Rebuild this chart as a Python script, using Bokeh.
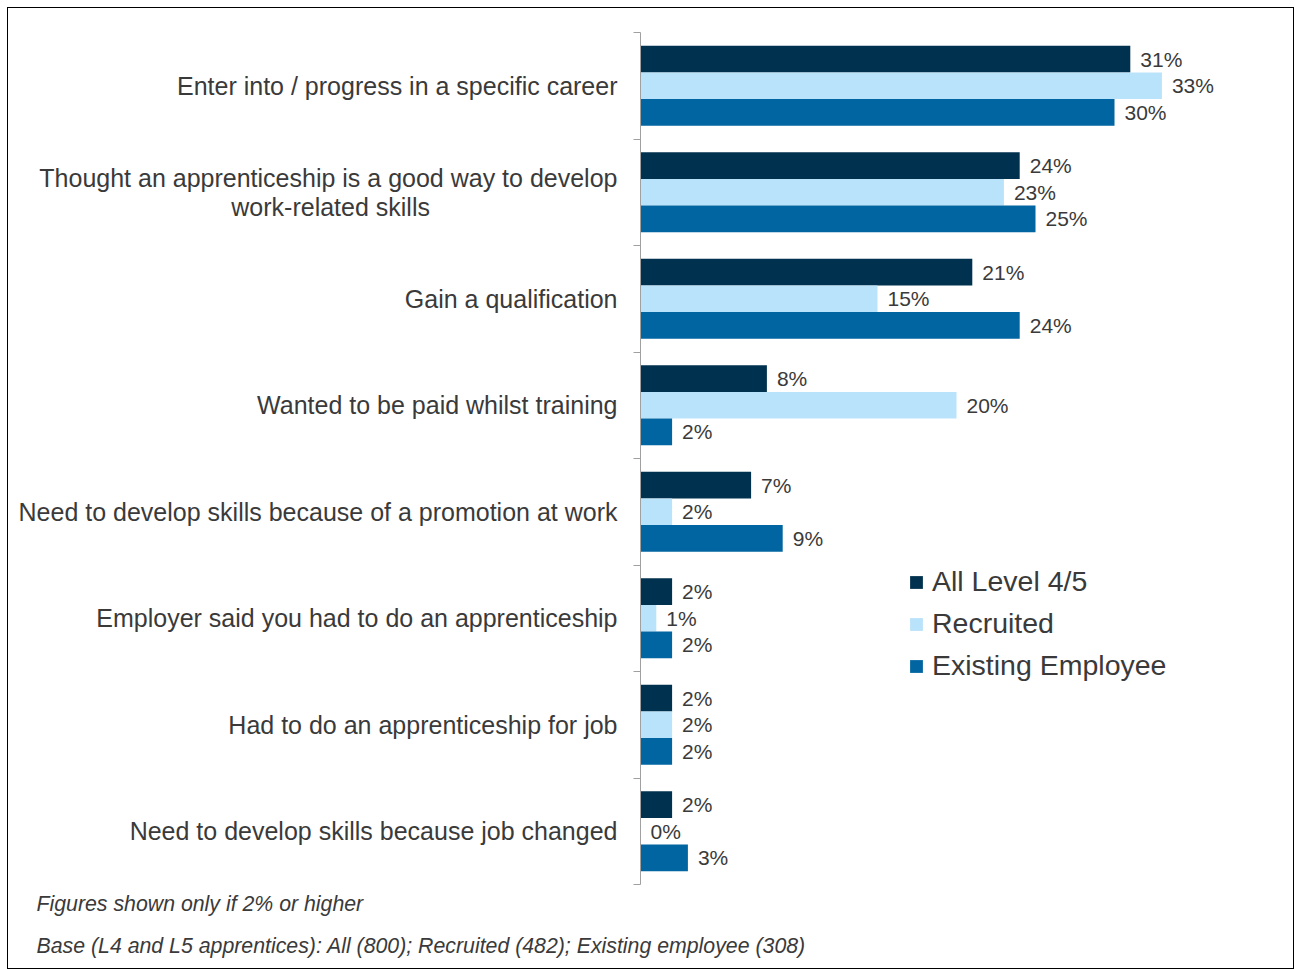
from bokeh.plotting import figure
from bokeh.models import Range1d, FixedTicker, ColumnDataSource, Legend, LegendItem, Title
from bokeh.embed import file_html
from bokeh.resources import INLINE
from bokeh.core.properties import value

NB = "\u00a0"
categories = [
    "Enter into / progress in a specific career",
    "Thought an apprenticeship is a good way to develop\nwork-related skills" + NB * 27,
    "Gain a qualification",
    "Wanted to be paid whilst training",
    "Need to develop skills because of a promotion at work",
    "Employer said you had to do an apprenticeship",
    "Had to do an apprenticeship for job",
    "Need to develop skills because job changed",
]
all_level = [31, 24, 21, 8, 7, 2, 2, 2]
recruited = [33, 23, 15, 20, 2, 1, 2, 0]
existing = [30, 25, 24, 2, 9, 2, 2, 3]
series_names = ["All Level 4/5", "Recruited", "Existing Employee"]
series_values = [all_level, recruited, existing]
colors = ["#00324F", "#B9E3FA", "#0065A0"]
footnotes = [
    "Figures shown only if 2% or higher",
    "Base (L4 and L5 apprentices): All (800); Recruited (482); Existing employee (308)",
]

FONT = "Liberation Sans"
TEXT_COLOR = "#3a3a3a"

W, H = 1285, 960
p = figure(width=W, height=H, output_backend="svg", toolbar_location=None,
           x_range=Range1d(0, 40), y_range=Range1d(len(categories), 0),
           min_border_left=632, min_border_right=21, min_border_top=24, min_border_bottom=83)
p.margin = (8, 0, 0, 8)
p.styles = {"outline": "1px solid #000"}
p.outline_line_color = None
p.xgrid.visible = False
p.ygrid.visible = False
p.xaxis.visible = False

n = len(categories)
bar_h = 0.25
renderers = []
for k, (name, vals, col) in enumerate(zip(series_names, series_values, colors)):
    ys = [i + 0.25 + bar_h * k for i in range(n)]
    src = ColumnDataSource(dict(y=ys, right=vals, lab=[f"{v}%" for v in vals]))
    r = p.hbar(y="y", left=0, right="right", height=bar_h, source=src,
               fill_color=col, line_color=None)
    renderers.append((name, r))
    p.text(x="right", y="y", text="lab", source=src, x_offset=10,
           text_align="left", text_baseline="middle",
           text_font=value(FONT), text_font_size="21px", text_color=TEXT_COLOR)

ax = p.yaxis[0]
ax.ticker = FixedTicker(ticks=[i + 0.5 for i in range(n)], minor_ticks=list(range(n + 1)))
ax.major_label_overrides = {i + 0.5: c for i, c in enumerate(categories)}
ax.major_tick_out = 0
ax.major_tick_in = 0
ax.minor_tick_out = 7
ax.minor_tick_in = 0
ax.minor_tick_line_color = "#a0a0a0"
ax.axis_line_color = "#a0a0a0"
ax.major_label_standoff = 16
ax.major_label_text_font = FONT
ax.major_label_text_font_size = "25px"
ax.major_label_text_color = TEXT_COLOR
ax.major_label_text_line_height = 1.05

legend = Legend(items=[LegendItem(label=nm, renderers=[r]) for nm, r in renderers],
                location=(268, 202), padding=0, margin=0, spacing=9,
                glyph_width=16, glyph_height=16, label_height=32, label_standoff=8,
                label_text_font=FONT, label_text_font_size="28.5px",
                label_text_color=TEXT_COLOR,
                border_line_color=None, background_fill_alpha=0)
p.add_layout(legend)

for t, so in zip(footnotes, [10, 22]):
    p.add_layout(Title(text=t, align="left", offset=-604, standoff=so,
                       text_font=FONT, text_font_style="italic", text_font_size="21.3px",
                       text_color=TEXT_COLOR), "below")

open("out.html", "w").write(file_html(p, INLINE))
